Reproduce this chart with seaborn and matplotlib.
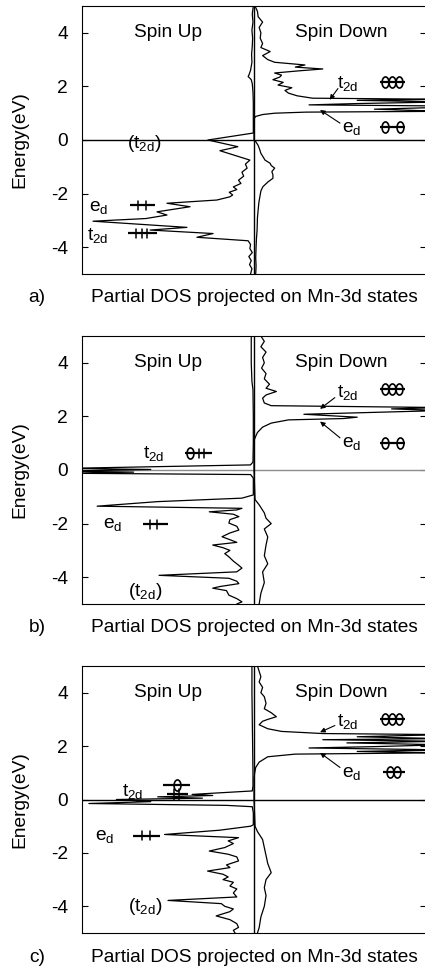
import numpy as np
import matplotlib
matplotlib.use('Agg')
import matplotlib.pyplot as plt
import seaborn as sns
from matplotlib.path import Path
from matplotlib.transforms import Affine2D

# Partial DOS on Mn-3d states (energy in eV, DOS in arb. units)
# spin up is drawn to the left (negative), spin down to the right

# panel a)
E_a_up = [5.0, 4.7, 4.4, 4.1, 3.8, 3.5, 3.2, 2.9, 2.6, 2.45, 2.37, 2.25, 2.1, 1.8, 1.4, 1.0, 0.6, 0.26,
          0.0, -0.25, -0.40, -0.75, -0.9, -1.05, -1.2, -1.35, -1.5, -1.62, -1.75, -1.85, -1.95, -2.05,
          -2.12, -2.24, -2.36, -2.49, -2.68, -2.80, -2.93, -3.03, -3.26, -3.36, -3.49, -3.63, -3.76,
          -3.9, -4.05, -4.2, -4.35, -4.5, -4.65, -4.8, -5.0]
dos_a_up = [-0.02, -0.05, -0.03, -0.06, -0.04, -0.05, -0.07, -0.06, -0.1, -0.14, -0.17, -0.08, -0.05,
            -0.03, -0.02, -0.02, -0.02, -0.02, -1.34, -0.47, -0.99, -0.12, -0.25, -0.2, -0.35, -0.3,
            -0.45, -0.38, -0.6, -0.5, -0.72, -0.62, -0.7, -1.08, -2.53, -1.86, -2.82, -2.53, -3.14,
            -4.68, -1.95, -3.02, -1.19, -1.66, -0.17, -0.1, -0.12, -0.05, -0.15, -0.08, -0.13, -0.06, -0.1]
E_a_dn = [5.0, 4.8, 4.6, 4.4, 4.2, 4.0, 3.8, 3.6, 3.45, 3.3, 3.15, 3.0, 2.9, 2.8, 2.72, 2.65, 2.58,
          2.5, 2.42, 2.35, 2.25, 2.15, 2.05, 1.95, 1.85, 1.75, 1.65, 1.56, 1.52, 1.48, 1.42, 1.36,
          1.31, 1.27, 1.22, 1.15, 1.07, 1.04, 1.0, 0.95, 0.88, 0.8, 0.4, 0.0, -0.06, -0.2, -0.37,
          -0.5, -0.6, -0.75, -0.87, -0.95, -1.05, -1.18, -1.3, -1.43, -1.56, -1.74, -1.9, -2.12,
          -2.35, -2.62, -2.9, -3.36, -3.7, -4.0, -4.4, -4.7, -5.0]
dos_a_dn = [0.03, 0.1, 0.12, 0.25, 0.15, 0.2, 0.18, 0.25, 0.2, 0.47, 0.25, 0.4, 0.6, 1.48, 1.2, 2.0,
            1.3, 0.6, 0.8, 0.75, 0.55, 0.85, 0.7, 1.1, 0.9, 1.0, 1.25, 1.7, 5.5, 3.0, 5.5, 3.0, 1.6,
            5.5, 5.5, 3.5, 5.5, 1.5, 0.6, 0.25, 0.05, 0.0, 0.0, 0.0, 0.05, 0.12, 0.17, 0.2, 0.25,
            0.32, 0.47, 0.5, 0.6, 0.52, 0.55, 0.55, 0.41, 0.26, 0.2, 0.17, 0.14, 0.12, 0.1, 0.09,
            0.07, 0.06, 0.05, 0.06, 0.05]

# panel b)
E_b_up = [5.0, 4.0, 3.3, 3.0, 2.0, 1.0, 0.3, 0.19, 0.06, 0.02, -0.04, -0.08, -0.12, -0.17, -0.3,
          -0.6, -0.93, -1.05, -1.18, -1.35, -1.43, -1.49, -1.56, -1.65, -1.74, -1.85, -1.98, -2.1,
          -2.24, -2.35, -2.49, -2.6, -2.7, -2.8, -2.9, -3.0, -3.12, -3.24, -3.4, -3.55, -3.66, -3.8,
          -3.93, -4.04, -4.15, -4.24, -4.35, -4.41, -4.5, -4.67, -4.8, -4.92, -5.0]
dos_b_up = [-0.08, -0.08, -0.06, -0.03, -0.02, -0.02, -0.03, -0.1, -5.5, -3.0, -5.5, -3.5, -5.5,
            -0.1, -0.02, -0.02, -0.02, -0.35, -2.8, -4.56, -0.35, -0.5, -1.3, -0.6, -0.44, -0.7,
            -0.73, -0.5, -0.44, -0.7, -0.93, -0.7, -0.5, -1.2, -0.9, -0.7, -0.85, -0.73, -0.6,
            -0.45, -0.35, -0.5, -2.76, -0.73, -0.5, -0.44, -1.0, -1.2, -0.8, -0.73, -0.5, -0.35, -0.5]
E_b_dn = [5.0, 4.8, 4.6, 4.4, 4.2, 4.0, 3.8, 3.6, 3.4, 3.2, 3.05, 2.93, 2.8, 2.68, 2.5, 2.4, 2.33,
          2.28, 2.22, 2.08, 1.97, 1.92, 1.87, 1.75, 1.6, 1.4, 1.2, 1.1, 0.2, 0.0, -1.1, -1.3, -1.6,
          -1.8, -2.0, -2.2, -2.5, -2.8, -3.2, -3.5, -3.8, -4.2, -4.6, -5.0]
dos_b_dn = [0.2, 0.3, 0.2, 0.35, 0.25, 0.3, 0.22, 0.35, 0.3, 0.45, 0.35, 0.65, 0.35, 0.25, 0.3, 0.5,
            5.5, 4.0, 5.5, 1.45, 3.0, 2.6, 1.0, 0.5, 0.25, 0.1, 0.03, 0.0, 0.0, 0.0, 0.03, 0.15,
            0.3, 0.35, 0.5, 0.3, 0.4, 0.35, 0.3, 0.4, 0.25, 0.3, 0.2, 0.15]

# panel c)
E_c_up = [5.0, 4.0, 3.0, 2.0, 1.0, 0.5, 0.32, 0.25, 0.19, 0.15, 0.1, 0.05, 0.0, -0.08, -0.15, -0.22,
          -0.27, -0.5, -0.95, -1.0, -1.15, -1.31, -1.43, -1.55, -1.65, -1.8, -1.93, -2.05, -2.15,
          -2.3, -2.45, -2.55, -2.68, -2.8, -2.9, -3.0, -3.1, -3.24, -3.35, -3.5, -3.65, -3.78, -3.9,
          -4.0, -4.1, -4.2, -4.36, -4.5, -4.65, -4.79, -4.9, -5.0]
dos_c_up = [-0.06, -0.06, -0.05, -0.04, -0.03, -0.03, -0.05, -1.0, -1.8, -1.2, -2.8, -1.5, -4.0,
            -3.0, -4.8, -0.8, -0.05, -0.02, -0.02, -0.1, -1.0, -2.6, -0.45, -0.75, -0.6, -0.85,
            -1.3, -0.75, -0.5, -0.45, -0.8, -0.7, -1.35, -0.9, -0.75, -0.9, -0.6, -0.7, -0.5, -0.6,
            -0.5, -2.5, -0.95, -0.85, -0.6, -0.7, -1.1, -0.7, -0.5, -0.45, -0.6, -0.55]
E_c_dn = [5.0, 4.8, 4.6, 4.4, 4.2, 4.0, 3.85, 3.6, 3.4, 3.25, 3.1, 3.0, 2.93, 2.8, 2.65, 2.55, 2.47,
          2.43, 2.35, 2.28, 2.24, 2.18, 2.12, 2.05, 1.98, 1.93, 1.86, 1.8, 1.75, 1.7, 1.6, 1.4, 1.2,
          1.0, 0.8, 0.0, -1.0, -1.2, -1.5, -1.8, -2.1, -2.4, -2.74, -3.0, -3.3, -3.6, -4.0, -4.4,
          -4.8, -5.0]
dos_c_dn = [0.1, 0.15, 0.2, 0.15, 0.25, 0.2, 0.3, 0.35, 0.3, 0.5, 0.65, 0.4, 0.25, 0.15, 0.4, 0.8,
            2.0, 5.5, 3.0, 5.5, 2.0, 5.5, 2.7, 5.5, 3.5, 1.6, 5.5, 3.0, 5.5, 1.2, 0.4, 0.15, 0.05,
            0.02, 0.0, 0.0, 0.03, 0.1, 0.25, 0.3, 0.35, 0.4, 0.5, 0.35, 0.3, 0.35, 0.3, 0.2, 0.15, 0.1]

panel_tags = ['a)', 'b)', 'c)']
y_ticks = [-4, -2, 0, 2, 4]
x_title = 'Partial DOS projected on Mn-3d states'

sns.set_style('ticks')
plt.rcParams['font.family'] = ['Liberation Sans', 'DejaVu Sans']
plt.rcParams['mathtext.fontset'] = 'custom'
plt.rcParams['mathtext.rm'] = 'Liberation Sans'
plt.rcParams['mathtext.it'] = 'Liberation Sans'
plt.rcParams['mathtext.default'] = 'regular'
for k in ['text.color', 'axes.labelcolor', 'xtick.color', 'ytick.color', 'axes.edgecolor']:
    plt.rcParams[k] = 'black'
FS = 13.8

T2D = r'$t_{2d}$'
ED = r'$e_d$'

# hollow ellipse used for the spin-down electrons
ell = Path.unit_circle().transformed(Affine2D().scale(0.62, 1.0))


def level(ax, x0, x1, e, ups=(), downs=(), h=0.17):
    ax.plot([x0, x1], [e, e], color='k', lw=1.6, solid_capstyle='butt')
    for x in ups:
        ax.plot([x, x], [e - h, e + h], color='k', lw=1.1)
    if downs:
        ax.plot(list(downs), [e] * len(downs), ls='none', marker=ell, ms=8,
                mfc='none', mec='k', mew=1.2)


def arrow(ax, xy, xytext):
    ax.annotate('', xy=xy, xytext=xytext,
                arrowprops=dict(arrowstyle='-|>', lw=0.8, color='k', mutation_scale=7,
                                shrinkA=0, shrinkB=0))


fig = plt.figure(figsize=(4.25, 9.68), dpi=100)
W, H = 425, 968
tops = [6, 336, 666]
bottoms = [274, 604, 933]
label_y = [298, 628, 957]

panels = [(E_a_up, dos_a_up, E_a_dn, dos_a_dn),
          (E_b_up, dos_b_up, E_b_dn, dos_b_dn),
          (E_c_up, dos_c_up, E_c_dn, dos_c_dn)]

axes = []
for i, (eu, du, ed, dd) in enumerate(panels):
    ax = fig.add_axes([82 / W, 1 - bottoms[i] / H, 344 / W, (bottoms[i] - tops[i]) / H])
    axes.append(ax)
    zc = '0.55' if i == 1 else 'k'
    ax.axhline(0, color=zc, lw=1.0, zorder=1)
    ax.axvline(0, color='k', lw=1.0, zorder=1)
    sns.lineplot(x=du, y=eu, sort=False, estimator=None, color='k', linewidth=0.9, ax=ax)
    sns.lineplot(x=dd, y=ed, sort=False, estimator=None, color='k', linewidth=0.9, ax=ax)
    ax.set_xlim(-5, 5)
    ax.set_ylim(-5, 5)
    ax.set_xticks([])
    ax.set_yticks(y_ticks)
    ax.set_yticklabels([str(t) for t in y_ticks], fontsize=FS)
    ax.tick_params(axis='y', direction='in', length=4, width=0.8, right=True,
                   labelright=False, pad=10)
    for s in ax.spines.values():
        s.set_linewidth(0.8)
    ax.set_ylabel('Energy(eV)', fontsize=FS)
    ax.yaxis.set_label_coords(-0.155, 0.5)
    ax.text(-2.5, 4.0, 'Spin Up', fontsize=FS, ha='center', va='center')
    ax.text(2.53, 4.0, 'Spin Down', fontsize=FS, ha='center', va='center')
    fig.text(37 / W, 1 - label_y[i] / H, panel_tags[i], fontsize=FS,
             ha='center', va='center')
    fig.text(254 / W, 1 - label_y[i] / H, x_title, fontsize=FS,
             ha='center', va='center')

# panel a annotations
ax = axes[0]
ax.text(-3.7, -0.12, '(' + T2D + ')', fontsize=FS, va='center')
ax.text(-4.8, -2.5, ED, fontsize=FS, va='center')
ax.text(-4.85, -3.55, T2D, fontsize=FS, va='center')
level(ax, -3.6, -2.88, -2.43, ups=[-3.37, -3.14])
level(ax, -3.66, -2.82, -3.48, ups=[-3.42, -3.26, -3.1])
ax.text(2.41, 2.1, T2D, fontsize=FS, va='center')
ax.text(2.56, 0.42, ED, fontsize=FS, va='center')
level(ax, 3.66, 4.39, 2.17, downs=[3.82, 4.02, 4.22])
level(ax, 3.66, 4.39, 0.48, downs=[3.8, 4.24])
arrow(ax, (2.2, 1.5), (2.44, 1.92))
arrow(ax, (1.92, 1.12), (2.5, 0.63))

# panel b annotations
ax = axes[1]
ax.text(-3.23, 0.62, T2D, fontsize=FS, va='center')
level(ax, -2.0, -1.22, 0.62, ups=[-1.6, -1.45], downs=[-1.86])
ax.text(-4.39, -2.05, ED, fontsize=FS, va='center')
level(ax, -3.23, -2.5, -2.03, ups=[-3.02, -2.82])
ax.text(-3.66, -4.55, '(' + T2D + ')', fontsize=FS, va='center')
ax.text(2.41, 2.9, T2D, fontsize=FS, va='center')
ax.text(2.56, 0.98, ED, fontsize=FS, va='center')
level(ax, 3.66, 4.39, 3.03, downs=[3.82, 4.02, 4.22])
level(ax, 3.66, 4.39, 1.0, downs=[3.8, 4.24])
arrow(ax, (1.92, 2.28), (2.35, 2.7))
arrow(ax, (1.92, 1.81), (2.5, 1.2))

# panel c annotations
ax = axes[2]
ax.text(-3.84, 0.3, T2D, fontsize=FS, va='center')
level(ax, -2.65, -1.86, 0.53, downs=[-2.24])
level(ax, -2.53, -1.92, 0.2, ups=[-2.33, -2.18], h=0.2)
ax.text(-4.62, -1.38, ED, fontsize=FS, va='center')
level(ax, -3.52, -2.73, -1.35, ups=[-3.26, -3.02])
ax.text(-3.66, -3.99, '(' + T2D + ')', fontsize=FS, va='center')
ax.text(2.41, 2.93, T2D, fontsize=FS, va='center')
ax.text(2.56, 0.98, ED, fontsize=FS, va='center')
level(ax, 3.66, 4.39, 3.03, downs=[3.82, 4.02, 4.22])
level(ax, 3.75, 4.39, 1.04, downs=[3.96, 4.16])
arrow(ax, (1.92, 2.52), (2.35, 2.77))
arrow(ax, (1.92, 1.75), (2.5, 1.2))

fig.savefig('out.png', dpi=100)
